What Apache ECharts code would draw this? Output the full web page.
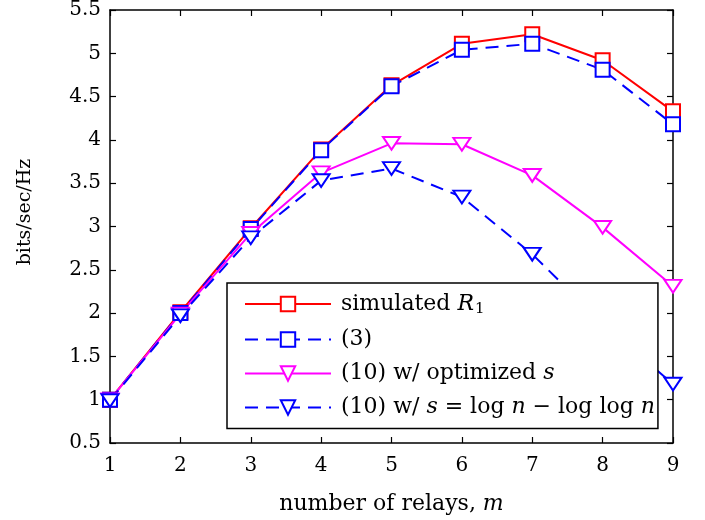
<!DOCTYPE html>
<html>
<head>
<meta charset="utf-8">
<script src="https://cdn.jsdelivr.net/npm/echarts@6/dist/echarts.min.js"></script>
<style>
  html, body { margin: 0; padding: 0; background: #fff; }
  #chart { width: 705px; height: 520px; }
</style>
</head>
<body>
<div id="chart"></div>
<script>
// relay counts on the x axis
const relays = [1, 2, 3, 4, 5, 6, 7, 8, 9];

const simulatedR1 = [1.0, 2.01, 2.98, 3.89, 4.63, 5.11, 5.22, 4.92, 4.33];
const eq3 = [1.0, 2.0, 2.97, 3.88, 4.62, 5.04, 5.11, 4.81, 4.18];
const eq10Opt = [1.0, 1.99, 2.92, 3.62, 3.96, 3.95, 3.59, 2.99, 2.31];
const eq10Log = [0.99, 1.97, 2.87, 3.53, 3.67, 3.34, 2.68, 1.88, 1.18];

const yTicks = [0.5, 1, 1.5, 2, 2.5, 3, 3.5, 4, 4.5, 5, 5.5];

const FONT = 'DejaVu Serif';
const triDown = 'path://M0,0 L20,0 L10,17 Z';

const legendText = {
    'sim': 'simulated {i|R}{sub|1}',
    'eq3': '(3)',
    'opt': '(10) w/ optimized {i|s}',
    'log': '(10) w/ {i|s} = log {i|n} − log log {i|n}'
};

function pairs(ys) {
    return relays.map((x, i) => [x, ys[i]]);
}

function makeSeries(name, ys, color, dashed, symbol, size) {
    return {
        name: name,
        type: 'line',
        data: pairs(ys),
        symbol: symbol,
        symbolSize: size,
        symbolKeepAspect: true,
        showAllSymbol: true,
        lineStyle: { color: color, width: 2, type: dashed ? [13, 8] : 'solid' },
        itemStyle: { color: '#fff', borderColor: color, borderWidth: 2 },
        emphasis: { disabled: true },
        animation: false
    };
}

const chart = echarts.init(document.getElementById('chart'));

const axisLine = { show: true, lineStyle: { color: '#000', width: 1.5 } };
const tickIn = { show: true, inside: true, length: 6, lineStyle: { color: '#000', width: 1.2 } };

chart.setOption({
    backgroundColor: '#fff',
    animation: false,
    grid: { left: 110, right: 32, top: 10, bottom: 77 },
    xAxis: [{
        type: 'value',
        min: 1, max: 9, interval: 1,
        axisLine: axisLine,
        axisTick: tickIn,
        splitLine: { show: false },
        axisLabel: { color: '#000', fontFamily: FONT, fontSize: 20, margin: 13 },
        name: 'number of relays, {i|m}',
        nameLocation: 'middle',
        nameGap: 50,
        nameTextStyle: {
            color: '#000', fontFamily: FONT, fontSize: 22,
            rich: { i: { fontStyle: 'italic', fontFamily: FONT, fontSize: 22, color: '#000' } }
        }
    }, {
        type: 'value', position: 'top',
        min: 1, max: 9, interval: 1,
        axisLine: axisLine, axisTick: tickIn,
        axisLabel: { show: false }, splitLine: { show: false }
    }],
    yAxis: [{
        type: 'value',
        min: yTicks[0], max: yTicks[yTicks.length - 1], interval: 0.5,
        axisLine: axisLine,
        axisTick: tickIn,
        splitLine: { show: false },
        axisLabel: { color: '#000', fontFamily: FONT, fontSize: 20, margin: 9 }
    }, {
        type: 'value', position: 'right',
        min: yTicks[0], max: yTicks[yTicks.length - 1], interval: 0.5,
        axisLine: axisLine, axisTick: tickIn,
        axisLabel: { show: false }, splitLine: { show: false }
    }],
    graphic: [{
        type: 'text',
        x: 25, y: 212,
        rotation: Math.PI / 2,
        style: {
            text: 'bits/sec/Hz',
            fill: '#000',
            font: '19px "DejaVu Serif"',
            align: 'center',
            verticalAlign: 'middle'
        }
    }],
    legend: {
        orient: 'vertical',
        left: 227, top: 283,
        padding: [10, 3, 10, 17],
        itemGap: 12,
        itemWidth: 86,
        itemHeight: 18,
        backgroundColor: '#fff',
        borderColor: '#000',
        borderWidth: 1.5,
        borderRadius: 0,
        selectedMode: false,
        data: ['sim', 'eq3', 'opt', 'log'],
        formatter: n => legendText[n],
        textStyle: {
            color: '#000', fontFamily: FONT, fontSize: 22,
            padding: [0, 0, 0, 5],
            rich: {
                i: { fontStyle: 'italic', fontFamily: FONT, fontSize: 22, color: '#000' },
                sub: { fontFamily: FONT, fontSize: 15, color: '#000', verticalAlign: 'bottom', padding: [10, 0, 0, 1] }
            }
        }
    },
    series: [
        makeSeries('sim', simulatedR1, '#ff0000', false, 'rect', 14),
        makeSeries('eq3', eq3, '#0000ff', true, 'rect', 14),
        makeSeries('opt', eq10Opt, '#ff00ff', false, triDown, [17, 15]),
        makeSeries('log', eq10Log, '#0000ff', true, triDown, [17, 15])
    ]
});
</script>
</body>
</html>
